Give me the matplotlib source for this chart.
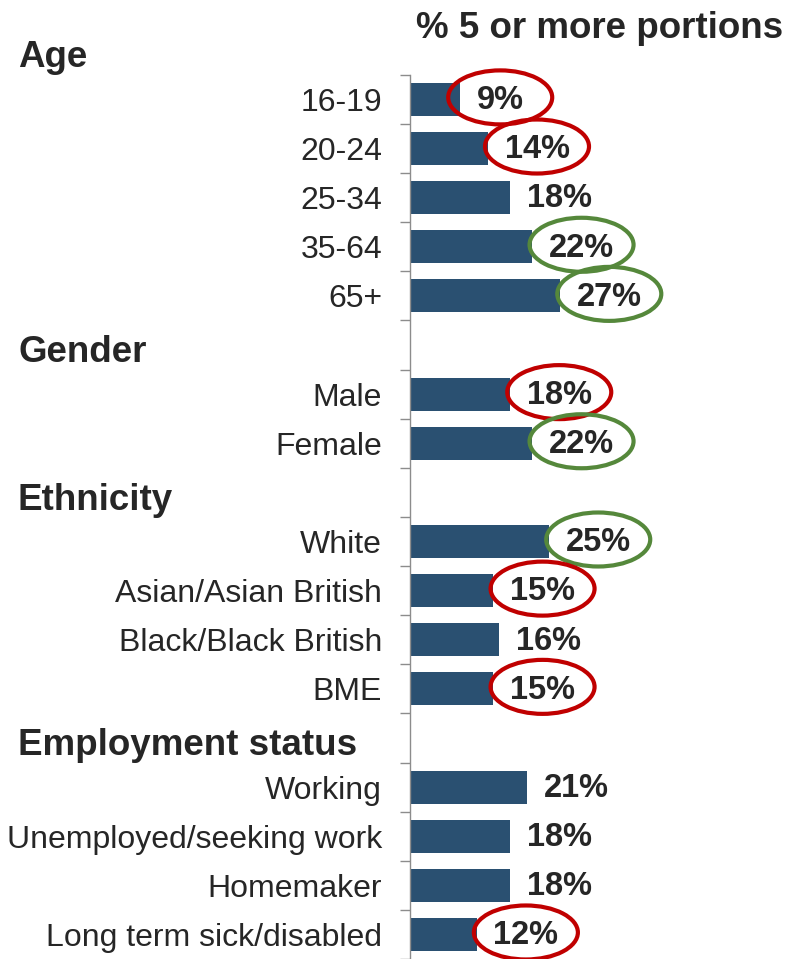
import matplotlib.pyplot as plt
from matplotlib.patches import Ellipse
from matplotlib.transforms import blended_transform_factory
import numpy as np

plt.rcParams['font.family'] = ['Liberation Sans', 'DejaVu Sans']

title = '% 5 or more portions'
sections = ['Age', 'Gender', 'Ethnicity', 'Employment status']

age_labels = ['16-19', '20-24', '25-34', '35-64', '65+']
age_values = [9, 14, 18, 22, 27]
age_rings = ['red', 'red', None, 'green', 'green']

gender_labels = ['Male', 'Female']
gender_values = [18, 22]
gender_rings = ['red', 'green']

ethnicity_labels = ['White', 'Asian/Asian British', 'Black/Black British', 'BME']
ethnicity_values = [25, 15, 16, 15]
ethnicity_rings = ['green', 'red', None, 'red']

employment_labels = ['Working', 'Unemployed/seeking work', 'Homemaker',
                     'Long term sick/disabled']
employment_values = [21, 18, 18, 12]
employment_rings = [None, None, None, 'red']

BAR = '#2A5071'
TEXT = '#262626'
AXIS = '#8C8C8C'
RING = {'red': '#C00000', 'green': '#55883B'}

# one row per section header, then one row per bar
header_rows = []
bar_rows, bar_vals, bar_labels, bar_rings = [], [], [], []
row = 0
for name, labs, vals, rings in zip(
        sections,
        [age_labels, gender_labels, ethnicity_labels, employment_labels],
        [age_values, gender_values, ethnicity_values, employment_values],
        [age_rings, gender_rings, ethnicity_rings, employment_rings]):
    header_rows.append((row, name))
    row += 1
    for l, v, r in zip(labs, vals, rings):
        bar_rows.append(row)
        bar_vals.append(v)
        bar_labels.append(l)
        bar_rings.append(r)
        row += 1
n_rows = row

fig = plt.figure(figsize=(7.9, 9.59), dpi=100)
ax = fig.add_axes([410 / 790, 0, 380 / 790, (959 - 74.8) / 959])

ax.barh(bar_rows, bar_vals, height=0.67, color=BAR, zorder=2)
ax.set_xlim(0, 380 / 5.56)
ax.set_ylim(0.5 + (959 - 74.8) / 49.3, 0.5)

for s in ['top', 'right', 'bottom']:
    ax.spines[s].set_visible(False)
ax.spines['left'].set_color(AXIS)
ax.spines['left'].set_linewidth(1)
ax.set_xticks([])

# tick marks between rows, category names on minor ticks
ax.set_yticks(np.arange(0.5, n_rows + 0.5, 1))
ax.set_yticklabels([])
ax.set_yticks(bar_rows, minor=True)
ax.set_yticklabels(bar_labels, minor=True)
ax.tick_params(axis='y', which='major', length=7, width=1, color=AXIS)
ax.tick_params(axis='y', which='minor', length=0, pad=20, labelsize=23,
               labelcolor=TEXT)

hdr_tr = blended_transform_factory(fig.transFigure, ax.transData)
for r, name in header_rows:
    ax.text(18 / 790, r + 0.35, name, transform=hdr_tr, ha='left',
            va='baseline', fontsize=26.5, fontweight='bold', color=TEXT,
            clip_on=False)

fig.text(600 / 790, 1 - 29 / 959, title, ha='center', va='center',
         fontsize=26.5, fontweight='bold', color=TEXT)

texts = []
for r, v in zip(bar_rows, bar_vals):
    t = ax.annotate(f'{v}%', xy=(v, r), xytext=(12, -1),
                    textcoords='offset points', ha='left', va='center',
                    fontsize=23.5, fontweight='bold', color=TEXT, zorder=4)
    texts.append(t)

# rings around the highlighted values
fig.canvas.draw()
renderer = fig.canvas.get_renderer()
x0 = ax.transData.transform((0, 0))
x1 = ax.transData.transform((1, 1))
px_x = x1[0] - x0[0]
px_y = abs(x1[1] - x0[1])
inv = ax.transData.inverted()
for t, r, ring in zip(texts, bar_rows, bar_rings):
    if ring is None:
        continue
    bb = t.get_window_extent(renderer)
    cx = inv.transform(((bb.x0 + bb.x1) / 2, 0))[0]
    ax.add_patch(Ellipse((cx, r - 0.04), width=104 / px_x, height=54 / px_y,
                         fill=False, edgecolor=RING[ring], lw=3,
                         clip_on=False, zorder=5))

fig.savefig('out.png', dpi=100)
